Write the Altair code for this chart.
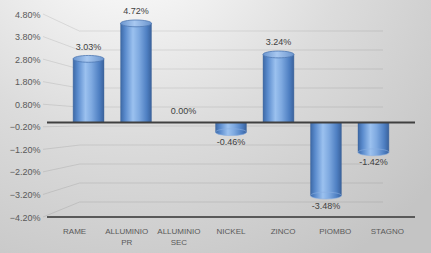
import altair as alt
import pandas as pd

categories = ["RAME", "ALLUMINIO PR", "ALLUMINIO SEC", "NICKEL", "ZINCO", "PIOMBO", "STAGNO"]
cat_labels = ["RAME", "ALLUMINIO\nPR", "ALLUMINIO\nSEC", "NICKEL", "ZINCO", "PIOMBO", "STAGNO"]
values = [3.03, 4.72, 0.00, -0.46, 3.24, -3.48, -1.42]
y_ticks = [-4.2, -3.2, -2.2, -1.2, -0.2, 0.8, 1.8, 2.8, 3.8, 4.8]

W, H = 368, 203
DEPTH = 0.84  # back wall scale relative to front

df = pd.DataFrame({"cat": categories, "label": cat_labels, "v": values})
df["txt"] = [f"{v:.2f}%" for v in values]
ticks = pd.DataFrame({"t": y_ticks})
one = pd.DataFrame({"a": [0]})

front = alt.Scale(domain=[-4.2, 4.8], range=[H, 0], nice=False, zero=False)
mid = alt.Scale(domain=[-4.2, 4.8], range=[196.7, 7.7], nice=False, zero=False)
wall = alt.Scale(domain=[-4.2, 4.8], range=[188, 17], nice=False, zero=False)
xband = alt.Scale(type="band", domain=categories, paddingInner=0.35, paddingOuter=0.55)
xlab = alt.Scale(type="point", domain=categories, padding=0.53)

def G(stops, **kw):
    return alt.Gradient(
        gradient=kw.pop("gradient", "linear"),
        stops=[alt.GradientStop(offset=o, color=c) for o, c in stops],
        **kw,
    )

bg_grad = G([(0, "#ffffff"), (0.22, "#f4f4f4"), (0.55, "#dcdcdc"), (1, "#c4c4c4")],
            gradient="radial", x1=0.3, y1=0.0, r1=0, x2=0.3, y2=0.0, r2=0.95)
bar_grad = G([(0, "#3d69a6"), (0.15, "#5a8bcd"), (0.4, "#9bc1ef"), (0.6, "#7ea9e0"),
              (0.85, "#4e7fc2"), (1, "#3a629c")], x1=0, x2=1, y1=0, y2=0)
cap_grad = G([(0, "#6a95cf"), (0.45, "#a8c8f0"), (1, "#6a94cd")], x1=0, x2=1, y1=0, y2=0)

ELLIPSE = "M -1 0 A 1 0.22 0 1 1 1 0 A 1 0.22 0 1 1 -1 0 Z"

bg = alt.Chart(one).mark_rect(fill=bg_grad).encode(
    x=alt.value(-47), x2=alt.value(W + 16), y=alt.value(-14), y2=alt.value(H + 36)
)

wallgrid = alt.Chart(ticks).mark_rule(color="#000000", opacity=0.09, strokeWidth=1).encode(
    y=alt.Y("t:Q", scale=wall, axis=None),
    x=alt.value(33), x2=alt.value(336),
)

diag = alt.Chart(ticks).transform_calculate(w=f"datum.t * {DEPTH}").mark_rule(
    color="#000000", opacity=0.09, strokeWidth=1
).encode(
    y=alt.Y("t:Q", scale=front, axis=alt.Axis(
        values=y_ticks, labelExpr="format(datum.value, '.2f') + '%'",
        grid=False, ticks=False, domain=False, labelPadding=7,
        labelFont="Liberation Sans", labelFontSize=9, labelColor="#595959",
        title=None, zindex=1, labelOverlap=False)),
    y2="w:Q",
    x=alt.value(-4), x2=alt.value(33),
)

bars = alt.Chart(df).mark_bar(fill=bar_grad, stroke="#3b5f95", strokeWidth=0.4).encode(
    x=alt.X("cat:N", scale=xband, axis=None),
    y=alt.Y("v:Q", scale=mid, axis=None),
    y2=alt.datum(0),
)

cap_pos = alt.Chart(df).transform_filter("datum.v > 0").mark_point(
    shape=ELLIPSE, filled=True, fill=cap_grad, stroke="#4f78b2", strokeWidth=0.8,
    size=961, opacity=1
).encode(
    x=alt.X("cat:N", scale=xband, axis=None),
    y=alt.Y("v:Q", scale=mid, axis=None),
)

cap_neg = alt.Chart(df).transform_filter("datum.v < 0").mark_point(
    shape=ELLIPSE, filled=True, fill=bar_grad, stroke="#8aaee0", strokeWidth=0.6,
    size=961, opacity=1
).encode(
    x=alt.X("cat:N", scale=xband, axis=None),
    y=alt.Y("v:Q", scale=mid, axis=None),
)

zero_line = alt.Chart(one).mark_rule(color="#404040", strokeWidth=2).encode(
    y=alt.Y(datum=0, scale=mid, axis=None),
    x=alt.value(0), x2=alt.value(W),
)

bottom_line = alt.Chart(one).mark_rule(color="#595959", strokeWidth=2).encode(
    y=alt.Y(datum=-4.2, scale=front, axis=None),
    x=alt.value(0), x2=alt.value(W),
)

lab_pos = alt.Chart(df).transform_filter("datum.v >= 0").mark_text(
    font="Liberation Sans", fontSize=9, color="#404040", baseline="alphabetic", dy=-9
).encode(
    x=alt.X("cat:N", scale=xband, axis=None),
    y=alt.Y("v:Q", scale=mid, axis=None),
    text="txt:N",
)

lab_neg = alt.Chart(df).transform_filter("datum.v < 0").mark_text(
    font="Liberation Sans", fontSize=9, color="#404040", baseline="alphabetic", dy=13
).encode(
    x=alt.X("cat:N", scale=xband, axis=None),
    y=alt.Y("v:Q", scale=mid, axis=None),
    text="txt:N",
)

cat_text = alt.Chart(df).mark_text(
    font="Liberation Sans", fontSize=8, color="#595959", align="center",
    baseline="alphabetic", lineBreak="\n", lineHeight=11.5
).encode(
    x=alt.X("cat:N", scale=xlab, axis=None),
    y=alt.value(219.5),
    text="label:N",
)

chart = alt.layer(
    bg, wallgrid, diag, bars, cap_neg, cap_pos, zero_line, bottom_line, lab_pos, lab_neg, cat_text
).resolve_scale(x="independent", y="independent").properties(
    width=W, height=H,
    padding={"left": 47, "top": 14, "right": 16, "bottom": 36},
    autosize=alt.AutoSizeParams(type="none"),
    background="#ffffff",
).configure_view(stroke=None)

chart.save("out.html", embed_options={"renderer": "svg", "actions": False})
